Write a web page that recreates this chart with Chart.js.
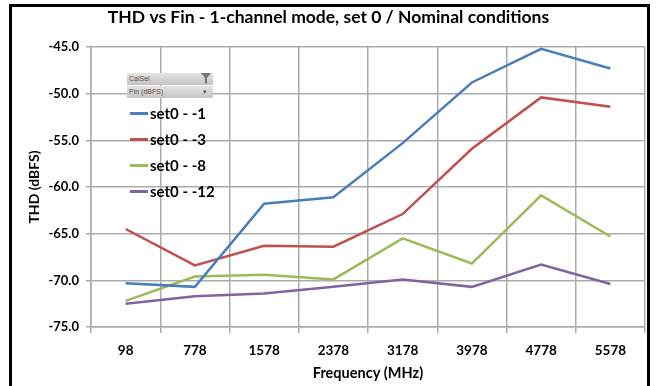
<!DOCTYPE html>
<html>
<head>
<meta charset="utf-8">
<script src="https://cdn.jsdelivr.net/npm/chart.js@4.4.1/dist/chart.umd.min.js"></script>
<style>
  html, body { margin: 0; padding: 0; background: #fff; }
  body { width: 661px; height: 386px; position: relative; overflow: hidden; }
  #frame {
    position: absolute; left: 9px; top: 4px; width: 641px; height: 390px;
    border: 3px solid #000; box-sizing: border-box; pointer-events: none;
  }
  #wrap { position: absolute; left: 0; top: 0; width: 661px; height: 386px; }
  .pivot {
    position: absolute; left: 127px; width: 86px; height: 12px;
    background: linear-gradient(#e4e4e4, #c4c4c4);
    font: 7px "Liberation Sans", Arial, sans-serif; color: #6b4a3a;
    line-height: 12px; padding-left: 2px; box-sizing: border-box;
  }
  .pivot .ic { position: absolute; right: 6px; top: 0; color: #555; }
  #legend { position: absolute; left: 130px; top: 100px; }
  .item { height: 26px; display: flex; align-items: center; }
  .item .sw { width: 18px; height: 3px; margin-right: 2px; }
  .item span { font: bold 15px Lato, sans-serif; color: #000; }
</style>
</head>
<body>
<div id="wrap"><canvas id="chartThd" width="661" height="386"></canvas></div>
<div class="pivot" style="top:73px">CalSel<svg class="ic" width="10" height="11" viewBox="0 0 10 11" style="right:2px;top:0"><path d="M0 0 H10 L6 5 V11 L4 10 V5 Z" fill="#777"/></svg></div>
<div class="pivot" style="top:86px">Pin (dBFS)<span class="ic">&#9662;</span></div>
<div id="legend"></div>
<div id="frame"></div>
<script>
  const categories = ["98", "778", "1578", "2378", "3178", "3978", "4778", "5578"];
  const seriesNames = ["set0 - -1", "set0 - -3", "set0 - -8", "set0 - -12"];
  const set0m1 = [-70.3, -70.7, -61.8, -61.1, -55.3, -48.8, -45.2, -47.3];
  const set0m3 = [-64.5, -68.4, -66.3, -66.4, -62.9, -55.9, -50.4, -51.4];
  const set0m8 = [-72.2, -69.6, -69.4, -69.9, -65.5, -68.2, -60.9, -65.3];
  const set0m12 = [-72.5, -71.7, -71.4, -70.7, -69.9, -70.7, -68.3, -70.4];
  const yTicks = [-75, -70, -65, -60, -55, -50, -45];

  const COLORS = ["#4a7ebb", "#c0504d", "#9bbb59", "#8064a2"];
  const GRID = "#ababab";

  const seriesData = [set0m1, set0m3, set0m8, set0m12];

  const datasets = seriesNames.map((name, i) => ({
    label: name,
    data: seriesData[i],
    borderColor: COLORS[i],
    backgroundColor: COLORS[i],
    borderWidth: 2.5,
    pointRadius: 0,
    tension: 0,
    fill: false
  }));

  // html legend from the datasets
  const legendEl = document.getElementById("legend");
  datasets.forEach((ds) => {
    const row = document.createElement("div");
    row.className = "item";
    const sw = document.createElement("div");
    sw.className = "sw";
    sw.style.background = ds.borderColor;
    const txt = document.createElement("span");
    txt.textContent = ds.label;
    row.appendChild(sw);
    row.appendChild(txt);
    legendEl.appendChild(row);
  });

  new Chart(document.getElementById("chartThd"), {
    type: "line",
    data: { labels: categories, datasets },
    options: {
      responsive: false,
      animation: false,
      layout: { padding: { left: 12, right: 16, top: 6, bottom: 0 } },
      plugins: {
        legend: { display: false },
        tooltip: { enabled: false },
        title: {
          display: true,
          text: "THD vs Fin - 1-channel mode, set 0 / Nominal conditions",
          color: "#000",
          font: { family: "Lato, sans-serif", size: 17.5, weight: "bold" },
          padding: { top: 1, bottom: 19 }
        }
      },
      scales: {
        x: {
          type: "category",
          offset: true,
          grid: { offset: true, color: GRID, lineWidth: 1.5, tickLength: 6 },
          border: { color: GRID, width: 1.5 },
          ticks: {
            color: "#000",
            font: { family: "Lato, sans-serif", size: 13.5, weight: "bold" },
            padding: 10,
            maxRotation: 0
          },
          title: {
            display: true,
            text: "Frequency (MHz)",
            color: "#000",
            font: { family: "Lato, sans-serif", size: 14.5, weight: "bold" },
            padding: { top: 2, bottom: 4 }
          },
          afterFit(scale) { scale.height = 59; }
        },
        y: {
          min: -75,
          max: -45,
          afterBuildTicks(scale) { scale.ticks = yTicks.map((v) => ({ value: v })); },
          grid: { color: GRID, lineWidth: 1.5, tickLength: 5 },
          border: { color: GRID, width: 1.5 },
          ticks: {
            color: "#000",
            font: { family: "Lato, sans-serif", size: 13, weight: "bold" },
            padding: 7,
            callback: (v) => Number(v).toFixed(1)
          },
          title: {
            display: true,
            text: "THD (dBFS)",
            color: "#000",
            font: { family: "Lato, sans-serif", size: 14, weight: "bold" },
            padding: { top: 14, bottom: 0 }
          },
          afterFit(scale) { scale.width = 79; }
        }
      }
    }
  });
</script>
</body>
</html>
